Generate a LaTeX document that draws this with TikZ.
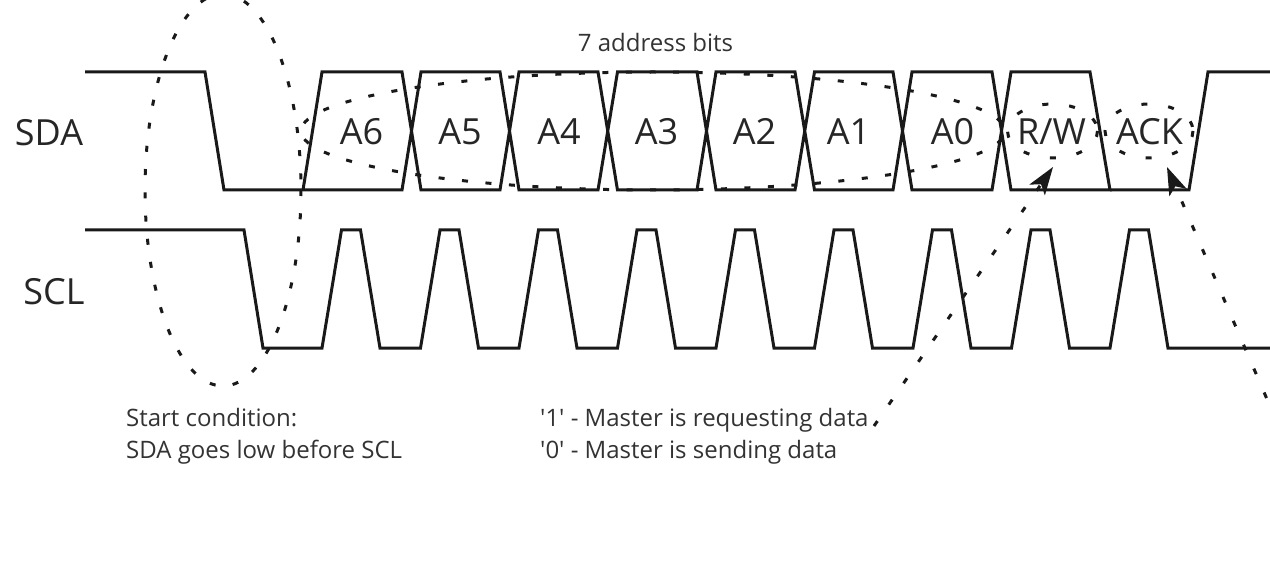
\documentclass[tikz,border=0pt]{standalone}
\usepackage{fontspec}
\setmainfont{Open Sans}
\usetikzlibrary{arrows.meta}
\tikzset{
  signal/.style={line width=3pt,black!90,line join=miter},
  dotted ring/.style={line width=3pt,black!90},
  pointer/.style={line width=3pt,black!90,dash pattern=on 6pt off 20pt,
    -{Stealth[length=28pt,width=19pt,inset=7pt,line width=0pt]}},
  big/.style={font=\fontsize{36}{40}\selectfont,text=black!85,inner sep=0pt,anchor=base},
  small/.style={font=\fontsize{24}{28}\selectfont,text=black!80,inner sep=0pt,anchor=base west},
}
\begin{document}
\begin{tikzpicture}[x=1pt,y=-1pt]
\useasboundingbox (0,0) rectangle (1270,588);
% dotted ellipses
\draw[dotted ring,dash pattern=on 6pt off 17.28pt] (223,190) ellipse [x radius=78,y radius=196];
\draw[dotted ring,dash pattern=on 6pt off 17.56pt,dash phase=14.8pt] (653,131) ellipse [x radius=352,y radius=59];
\draw[dotted ring,dash pattern=on 6pt off 21pt] (1052.5,131) ellipse [x radius=45,y radius=27];
\draw[dotted ring,dash pattern=on 6pt off 21pt] (1149,131) ellipse [x radius=44,y radius=27];
% SDA upper and lower edges
\draw[signal] (85,72) -- (205,72) -- (224,190) -- (303,190) -- (322,72) -- (402,72)
  -- (421,190) -- (500,190) -- (519,72) -- (598,72) -- (617.5,190) -- (697,190)
  -- (716,72) -- (795,72) -- (814.5,190) -- (893,190) -- (912,72) -- (992,72)
  -- (1011,190) -- (1110,190) -- (1090,72) -- (1011,72) -- (992,190) -- (912,190)
  -- (893,72) -- (814.5,72) -- (795,190) -- (716,190) -- (697,72) -- (617.5,72)
  -- (598,190) -- (519,190) -- (500,72) -- (421,72) -- (402,190) -- (303,190);
\draw[signal] (1110,190) -- (1189,190) -- (1208,72) -- (1270,72);
% SCL
\draw[signal] (85,230) -- (244,230) -- (263,348) -- (322,348)
  -- (341.5,230) -- (360.5,230) -- (380,348) -- (420.5,348)
  -- (440,230) -- (459,230) -- (478.5,348) -- (519,348)
  -- (538.5,230) -- (557.5,230) -- (577,348) -- (617.5,348)
  -- (637,230) -- (656,230) -- (675.5,348) -- (716,348)
  -- (735.5,230) -- (754.5,230) -- (774,348) -- (814.5,348)
  -- (834,230) -- (853,230) -- (872.5,348) -- (913,348)
  -- (932.5,230) -- (951.5,230) -- (971,348) -- (1011.5,348)
  -- (1031,230) -- (1050,230) -- (1069.5,348) -- (1110,348)
  -- (1129.5,230) -- (1148.5,230) -- (1168,348) -- (1270,348);
% labels
\node[big] (sda) at (49,145.5) {SDA};
\node[big] (scl) at (54,304.5) {SCL};
\node[big] (a6) at (361.5,145) {A6};
\node[big] (a5) at (460,145) {A5};
\node[big] (a4) at (559,145) {A4};
\node[big] (a3) at (656.5,145) {A3};
\node[big] (a2) at (754.5,145) {A2};
\node[big] (a1) at (848.5,145) {A1};
\node[big] (a0) at (952.5,145) {A0};
\node[big] (rw) at (1051.5,145) {R/W};
\node[big] (ack) at (1149.5,145) {ACK};
\node[small,anchor=base] (bits) at (655.5,52) {7 address bits};
\node[small] (start1) at (126,426.5) {Start condition:};
\node[small] (start2) at (126,458) {SDA goes low before SCL};
\node[small] (one) at (540,426.5) {\textquotesingle 1\textquotesingle{} - Master is requesting data};
\node[small] (zero) at (540,458) {\textquotesingle 0\textquotesingle{} - Master is sending data};
% pointers
\coordinate (rwfrom) at (874,426);
\coordinate (rwto) at (1053,167);
\coordinate (ackfrom) at (1266.5,398);
\coordinate (ackto) at (1167,167);
\draw[pointer] (rwfrom) -- (rwto);
\draw[pointer] (ackfrom) -- (ackto);
\end{tikzpicture}
\end{document}
